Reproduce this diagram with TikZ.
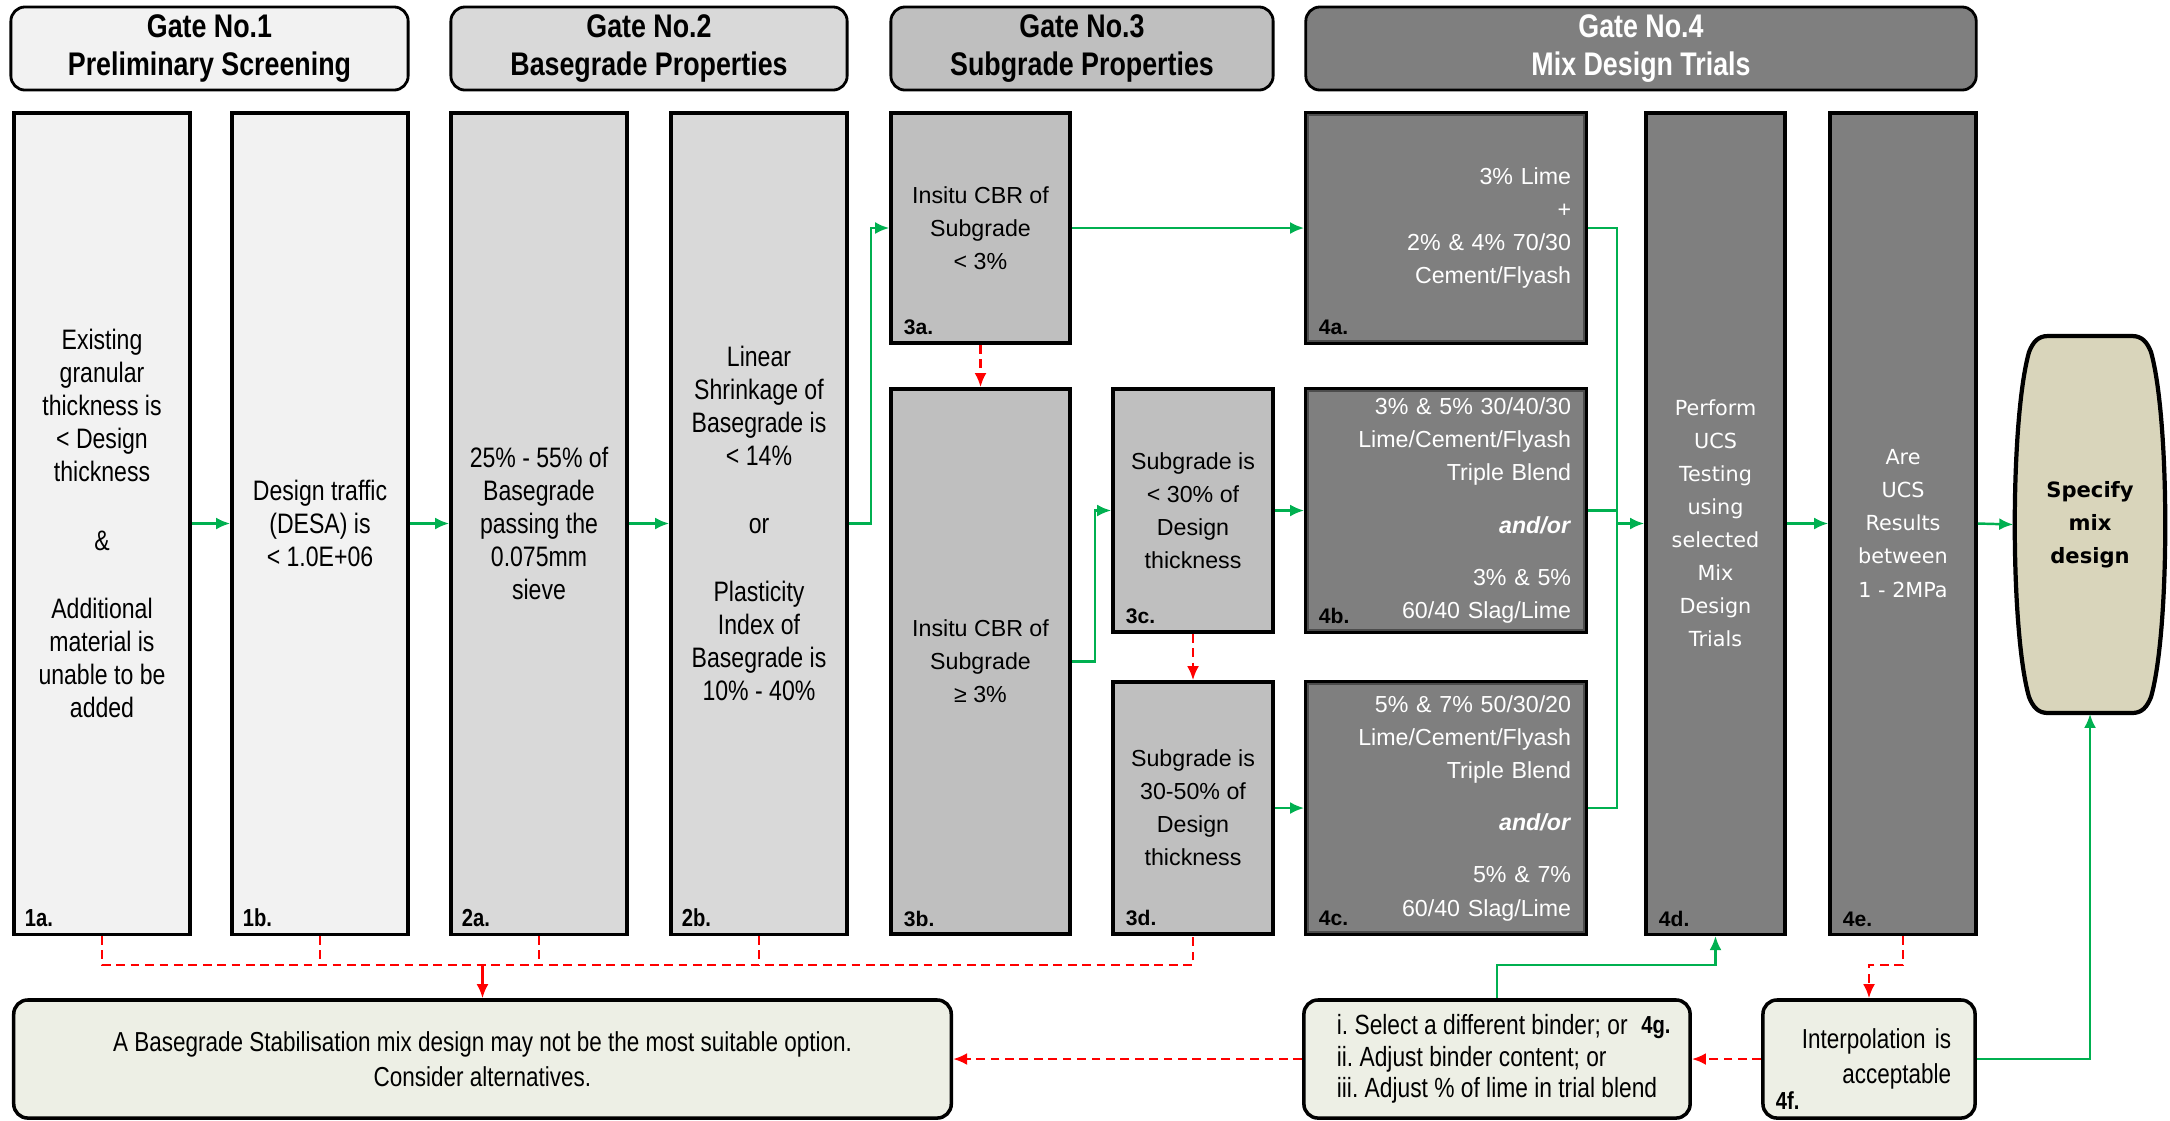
\documentclass[tikz,border=0pt]{standalone}
\usepackage{fontspec}
\setmainfont{Liberation Sans}
\newfontfamily\narrowfont[FakeStretch=0.82]{Liberation Sans}
\newfontfamily\widefont{DejaVu Sans}
\usepackage{tikz}
\usetikzlibrary{calc}
\usetikzlibrary{arrows.meta}
\definecolor{GateOne}{HTML}{F2F2F2}
\definecolor{GateTwo}{HTML}{D9D9D9}
\definecolor{GateThree}{HTML}{BFBFBF}
\definecolor{GateFour}{HTML}{7F7F7F}
\definecolor{SpecFill}{HTML}{D9D5BB}
\definecolor{EndFill}{HTML}{EDEFE5}
\definecolor{FlowGreen}{HTML}{00B050}
\definecolor{StopRed}{HTML}{FF0000}

\begin{document}
\begin{tikzpicture}[x=0.01cm, y=-0.01cm,
    gatehead/.style={draw, line width=.8pt, rounded corners=4pt,
      minimum height=.83cm, inner ysep=1pt, align=center,
      font=\narrowfont\bfseries\fontsize{9.3}{11}\selectfont},
    gbox/.style={draw, line width=1pt, align=center, inner sep=1pt},
    narrowtext/.style={font=\narrowfont\fontsize{8}{9.4}\selectfont},
    plaintext/.style={font=\fontsize{6.6}{9.4}\selectfont},
    widetext/.style={font=\widefont\fontsize{5.9}{9.4}\selectfont, text=white},
    mixbox/.style={gbox, fill=GateFour, text=white, align=right,
      text width=2.5cm, minimum width=2.8cm, plaintext},
    endbox/.style={draw, line width=1pt, rounded corners=4pt, fill=EndFill,
      font=\narrowfont\frenchspacing\fontsize{7.8}{9.8}\selectfont},
    boxtag/.style={font=\narrowfont\bfseries\fontsize{7}{8}\selectfont,
      inner sep=0pt, anchor=south west},
    boxtagw/.style={font=\bfseries\fontsize{6}{7}\selectfont,
      inner sep=0pt, anchor=south west},
    flowline/.style={draw=FlowGreen, line width=.7pt},
    flow/.style={flowline, -{Latex[length=4pt,width=3.4pt]}},
    nogo/.style={draw=StopRed, line width=.7pt, dash pattern=on 2.5pt off 1.6pt},
    nogoarrow/.style={nogo, -{Latex[length=4pt,width=3.4pt]}},
  ]
  \useasboundingbox (0,0) rectangle (2170,1120);

  % gate headers
  \node[gatehead, fill=GateOne, minimum width=3.97cm] (g1) at (209.5,48.5)
    {Gate No.1\\Preliminary Screening};
  \node[gatehead, fill=GateTwo, minimum width=3.96cm] (g2) at (649,48.5)
    {Gate No.2\\Basegrade Properties};
  \node[gatehead, fill=GateThree, minimum width=3.82cm] (g3) at (1082,48.5)
    {Gate No.3\\Subgrade Properties};
  \node[gatehead, fill=GateFour, text=white, minimum width=6.7cm] (g4) at (1641,48.5)
    {Gate No.4\\Mix Design Trials};

  % gate 1 and 2
  \node[gbox, narrowtext, fill=GateOne, minimum width=1.76cm, minimum height=8.21cm]
    (b1a) at (102,523.5) {Existing\\granular\\thickness is\\< Design\\thickness\\[10pt]
    \&\\[10pt]Additional\\material is\\unable to be\\added};
  \node[gbox, narrowtext, fill=GateOne, minimum width=1.76cm, minimum height=8.21cm]
    (b1b) at (320,523.5) {Design traffic\\(DESA) is\\< 1.0E+06};
  \node[gbox, narrowtext, fill=GateTwo, minimum width=1.76cm, minimum height=8.21cm]
    (b2a) at (539,523.5) {25\% - 55\% of\\Basegrade\\passing the\\0.075mm\\sieve};
  \node[gbox, narrowtext, fill=GateTwo, minimum width=1.76cm, minimum height=8.21cm]
    (b2b) at (759,523.5) {Linear\\Shrinkage of\\Basegrade is\\< 14\%\\[10pt]or\\[10pt]
    Plasticity\\Index of\\Basegrade is\\10\% - 40\%};

  % gate 3
  \node[gbox, plaintext, fill=GateThree, minimum width=1.79cm, minimum height=2.3cm]
    (b3a) at (980.5,228) {Insitu CBR of\\Subgrade\\< 3\%};
  \node[gbox, plaintext, fill=GateThree, minimum width=1.79cm, minimum height=5.45cm]
    (b3b) at (980.5,661.5) {Insitu CBR of\\Subgrade\\≥ 3\%};
  \node[gbox, plaintext, fill=GateThree, minimum width=1.6cm, minimum height=2.43cm]
    (b3c) at (1193,510.5) {Subgrade is\\< 30\% of\\Design\\thickness};
  \node[gbox, plaintext, fill=GateThree, minimum width=1.6cm, minimum height=2.52cm]
    (b3d) at (1193,808) {Subgrade is\\30-50\% of\\Design\\thickness};

  % gate 4
  \node[mixbox, minimum height=2.3cm] (b4a) at (1446,228)
    {3\% Lime\\+\\2\% \& 4\% 70/30\\Cement/Flyash};
  \node[mixbox, minimum height=2.43cm] (b4b) at (1446,510.5)
    {3\% \& 5\% 30/40/30\\Lime/Cement/Flyash\\Triple Blend\\[5.5pt]
    \textbf{\textit{and/or}}\\[5.5pt]3\% \& 5\%\\60/40 Slag/Lime};
  \node[mixbox, minimum height=2.52cm] (b4c) at (1446,808)
    {5\% \& 7\% 50/30/20\\Lime/Cement/Flyash\\Triple Blend\\[5.5pt]
    \textbf{\textit{and/or}}\\[5.5pt]5\% \& 7\%\\60/40 Slag/Lime};
  \foreach \b in {b4a,b4b,b4c}
    \draw[black!70, line width=.4pt] ($(\b.south west)+(4,-4)$) rectangle ($(\b.north east)+(-4,4)$);
  \node[gbox, widetext, fill=GateFour, minimum width=1.39cm, minimum height=8.21cm]
    (b4d) at (1715.5,523.5) {Perform\\UCS\\Testing\\using\\selected\\Mix\\Design\\Trials};
  \node[gbox, widetext, fill=GateFour, minimum width=1.46cm, minimum height=8.21cm]
    (b4e) at (1903,523.5) {Are\\UCS\\Results\\between\\1 - 2MPa};

  % end of the line
  \draw[fill=SpecFill, line width=1.2pt] (2048,336) -- (2132,336)
    .. controls (2142,336) and (2147,342) .. (2151,352)
    .. controls (2170,420) and (2170,630) .. (2151,697)
    .. controls (2147,707) and (2142,713) .. (2132,713) -- (2048,713)
    .. controls (2038,713) and (2033,707) .. (2029,697)
    .. controls (2010,630) and (2010,420) .. (2029,352)
    .. controls (2033,342) and (2038,336) .. (2048,336) -- cycle;
  \node[minimum width=1.52cm, minimum height=3.77cm, align=center,
    font=\widefont\bfseries\fontsize{6}{9.4}\selectfont]
    (spec) at (2090,524.5) {Specify\\mix\\design};
  \node[endbox, align=center, minimum width=9.37cm, minimum height=1.18cm]
    (alt) at (482.5,1059) {A Basegrade Stabilisation mix design may not be the most suitable option.\\
    Consider alternatives.};
  \node[endbox, align=left, minimum width=3.86cm, minimum height=1.18cm,
    font=\narrowfont\frenchspacing\fontsize{7.9}{8.9}\selectfont]
    (b4g) at (1497,1059) {i. Select a different binder; or\\ii. Adjust binder content; or\\
    iii. Adjust \% of lime in trial blend};
  \node[endbox, align=right, text width=1.64cm, minimum width=2.12cm, minimum height=1.18cm]
    (b4f) at (1869,1059) {Interpolation is\\acceptable};

  % box tags
  \foreach \b/\t in {b1a/1a., b1b/1b., b2a/2a., b2b/2b.}
    \node[boxtag] (tag-\b) at ($(\b.south west)+(12,-9)$) {\t};
  \foreach \b/\t in {b3a/3a., b3b/3b., b3c/3c., b3d/3d., b4a/4a., b4b/4b., b4c/4c., b4d/4d., b4e/4e.}
    \node[boxtagw] (tag-\b) at ($(\b.south west)+(14,-9)$) {\t};
  \node[boxtag] (tag-b4f) at ($(b4f.south west)+(14,-10)$) {4f.};
  \node[boxtag, anchor=center] (tag-b4g) at (1656,1028) {4g.};

  % pass: green
  \draw[flow] (b1a.east) -- (b1b.west);
  \draw[flow] (b1b.east) -- (b2a.west);
  \draw[flow] (b2a.east) -- (b2b.west);
  \draw[flow] (b2b.east) -- ++(22,0) |- (b3a.west);
  \draw[flow] (b3a.east) -- (b4a.west);
  \draw[flow] (b3b.east) -- ++(23,0) |- (b3c.west);
  \draw[flow] (b3c.east) -- (b4b.west);
  \draw[flow] (b3d.east) -- (b4c.west);
  \coordinate (join) at (1617,523.5);
  \draw[flowline] (b4a.east) -| (join);
  \draw[flowline] (b4c.east) -| (join);
  \draw[flowline] (b4b.east) -- (b4b.east -| join);
  \draw[flow] (join) -- (b4d.west);
  \draw[flow] (b4d.east) -- (b4e.west);
  \draw[flow] (b4e.east) -- (spec.west);
  \draw[flow] (b4f.east) -| (spec.south);

  % fail: red
  \coordinate (bus) at (0,965);
  \draw[nogoarrow] (b3a.south) -- (b3b.north);
  \draw[nogoarrow] (b3c.south) -- (b3d.north);
  \draw[nogo] (b1a.south) -- (b1a.south |- bus) -- (b3d.south |- bus) -- (b3d.south);
  \foreach \b in {b1b,b2a,b2b}
    \draw[nogo] (\b.south) -- (\b.south |- bus);
  \draw[draw=StopRed, line width=.7pt, -{Latex[length=4pt,width=3.4pt]}]
    (alt.north |- bus) -- (alt.north);
  \draw[nogoarrow] (b4e.south) -- (b4e.south |- bus) -| (b4f.north);
  \draw[nogoarrow] (b4f.west) -- (b4g.east);
  \draw[nogoarrow] (b4g.west) -- (alt.east);
  \draw[flow] (b4g.north) -- (b4g.north |- bus) -| (b4d.south);

\end{tikzpicture}
\end{document}
